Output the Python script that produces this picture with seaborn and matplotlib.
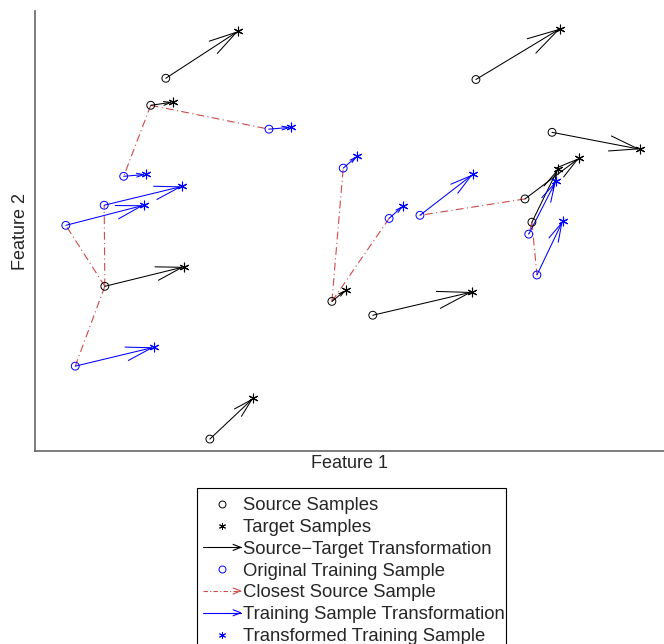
import numpy as np
import pandas as pd
import seaborn as sns
import matplotlib
matplotlib.use("Agg")
import matplotlib.pyplot as plt
from matplotlib.lines import Line2D
from matplotlib.patches import Rectangle
from matplotlib.legend_handler import HandlerBase

# source samples and where they move to (target samples)
src_x = [2.08, 1.84, 1.11, 2.78, 7.01, 8.22, 7.79, 7.90, 4.72, 5.37]
src_y = [5.93, 5.50, 2.62, 0.19, 5.91, 5.07, 4.01, 3.64, 2.38, 2.16]
tgt_x = [3.23, 2.19, 2.37, 3.47, 8.35, 9.62, 8.65, 8.31, 4.94, 6.95]
tgt_y = [6.68, 5.55, 2.93, 0.84, 6.72, 4.80, 4.66, 4.48, 2.56, 2.53]

# training samples, their transformed position, and index of the closest source
trn_x = [3.72, 1.41, 1.10, 0.49, 0.64, 4.90, 5.63, 6.12, 7.85, 7.98]
trn_y = [5.12, 4.37, 3.91, 3.59, 1.35, 4.50, 3.70, 3.75, 3.45, 2.80]
trf_x = [4.07, 1.76, 2.34, 1.73, 1.89, 5.12, 5.85, 6.96, 8.28, 8.39]
trf_y = [5.15, 4.40, 4.21, 3.91, 1.65, 4.69, 3.90, 4.40, 4.29, 3.66]
closest = [1, 1, 2, 2, 2, 8, 8, 6, 7, 7]

labels = ["Source Samples", "Target Samples", "Source\u2212Target Transformation",
          "Original Training Sample", "Closest Source Sample",
          "Training Sample Transformation", "Transformed Training Sample"]

RED = "#d04a4a"
BLUE = "#0000ff"

sns.set_style("white")
plt.rcParams["font.family"] = ["Liberation Sans", "DejaVu Sans"]

fig = plt.figure(figsize=(6.64, 6.44), dpi=100)
ax = fig.add_axes([35 / 664, 1 - 451 / 644, 629 / 664, 440 / 644])
ax.set_xlim(0, 10)
ax.set_ylim(0, 7)

# closest-source links
for i, j in enumerate(closest):
    ax.plot([src_x[j], trn_x[i]], [src_y[j], trn_y[i]], color=RED, lw=0.8,
            ls=(0, (7, 3, 1, 3)), zorder=1)


def arrow(x0, y0, x1, y1, color):
    p0 = ax.transData.transform((x0, y0))
    p1 = ax.transData.transform((x1, y1))
    L = np.hypot(*(p1 - p0)) * 72 / fig.dpi
    ax.annotate("", xy=(x1, y1), xytext=(x0, y0),
                arrowprops=dict(arrowstyle=f"->,head_length={0.32 * L:.2f},head_width={0.085 * L:.2f}",
                                color=color, lw=0.75, shrinkA=0, shrinkB=0,
                                mutation_scale=1), zorder=2)


for i in range(len(src_x)):
    arrow(src_x[i], src_y[i], tgt_x[i], tgt_y[i], "black")
for i in range(len(trn_x)):
    arrow(trn_x[i], trn_y[i], trf_x[i], trf_y[i], BLUE)

src = pd.DataFrame({"x": src_x, "y": src_y})
tgt = pd.DataFrame({"x": tgt_x, "y": tgt_y})
trn = pd.DataFrame({"x": trn_x, "y": trn_y})
trf = pd.DataFrame({"x": trf_x, "y": trf_y})

sns.scatterplot(data=src, x="x", y="y", ax=ax, marker="o", s=32, color="black",
                facecolors="none", edgecolor="black", linewidth=0.7, zorder=3)
sns.scatterplot(data=tgt, x="x", y="y", ax=ax, marker=(6, 2, 0), s=40, color="black",
                linewidth=0.8, zorder=3)
sns.scatterplot(data=trn, x="x", y="y", ax=ax, marker="o", s=32, color=BLUE,
                facecolors="none", edgecolor=BLUE, linewidth=0.7, zorder=3)
sns.scatterplot(data=trf, x="x", y="y", ax=ax, marker=(6, 2, 0), s=40, color=BLUE,
                linewidth=0.8, zorder=3)

ax.set_xticks([])
ax.set_yticks([])
sns.despine(ax=ax)
for s in ("left", "bottom"):
    ax.spines[s].set_color("#666666")
    ax.spines[s].set_linewidth(1.2)
ax.set_xlabel("Feature 1", fontsize=13, labelpad=3)
ax.set_ylabel("Feature 2", fontsize=13, labelpad=4)


class ArrowHandler(HandlerBase):
    def __init__(self, color, ls="-"):
        super().__init__()
        self.color = color
        self.ls = ls

    def create_artists(self, legend, orig_handle, xdescent, ydescent,
                       width, height, fontsize, trans):
        y = height / 2 - ydescent
        x0, x1 = -xdescent, width - xdescent
        hl, hw = 0.2 * width, 0.08 * width
        shaft = Line2D([x0, x1], [y, y], color=self.color, lw=0.8, ls=self.ls)
        head = Line2D([x1 - hl, x1, x1 - hl], [y + hw, y, y - hw], color=self.color, lw=0.8)
        shaft.set_transform(trans)
        head.set_transform(trans)
        return [shaft, head]


h_src = Line2D([], [], ls="none", marker="o", mfc="none", mec="black", ms=5, mew=0.7)
h_tgt = Line2D([], [], ls="none", marker=(6, 2, 0), color="black", ms=5, mew=0.7)
h_st = Line2D([], [], color="black")
h_trn = Line2D([], [], ls="none", marker="o", mfc="none", mec=BLUE, ms=5, mew=0.7)
h_cl = Line2D([], [], color=RED)
h_tr = Line2D([], [], color=BLUE)
h_trf = Line2D([], [], ls="none", marker=(6, 2, 0), color=BLUE, ms=5, mew=0.7)

leg = fig.legend([h_src, h_tgt, h_st, h_trn, h_cl, h_tr, h_trf], labels,
                 loc="upper center", bbox_to_anchor=(354 / 664, 1 - 488 / 644),
                 fontsize=13.3, frameon=False,
                 handlelength=2.05, handletextpad=0.15, labelspacing=0.26,
                 borderpad=0.5, borderaxespad=0,
                 handler_map={h_st: ArrowHandler("black"),
                              h_cl: ArrowHandler(RED, (0, (4, 2, 1, 2))),
                              h_tr: ArrowHandler(BLUE)})

# legend box, running past the lower edge of the figure as in the source image
fig.patches.append(Rectangle((197 / 664, -0.02), 309 / 664, 156 / 644 + 0.02,
                             transform=fig.transFigure, fill=False,
                             edgecolor="black", lw=0.8))

fig.savefig("out.png", dpi=100)
